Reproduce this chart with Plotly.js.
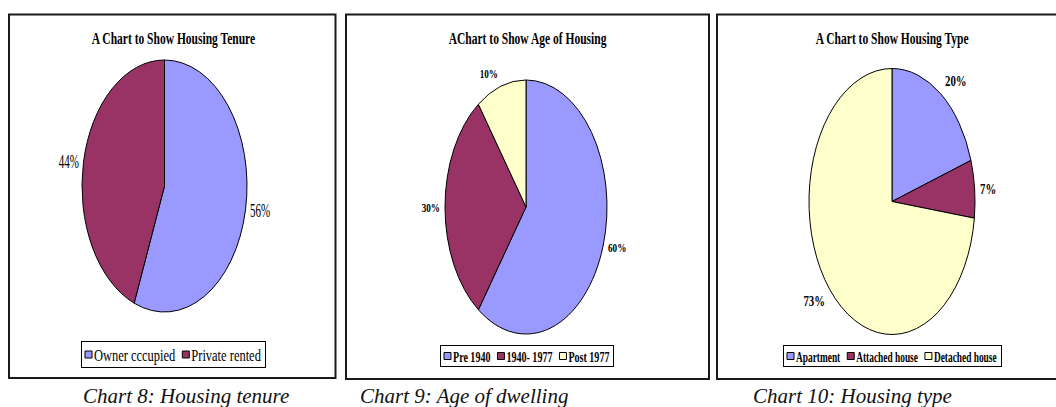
<!DOCTYPE html>
<html><head><meta charset="utf-8">
<script src="https://cdn.plot.ly/plotly-3.0.1.min.js"></script>
<style>
html,body{margin:0;padding:0;background:#fff;}
#chart{width:1056px;height:407px;}
</style></head><body><div id="chart"></div>
<script>
// ---- data ----
const tenureLabels = ['Owner cccupied', 'Private rented'];
const tenureValues = [56, 44];
const ageLabels = ['Pre 1940', '1940- 1977', 'Post 1977'];
const ageValues = [60, 30, 10];
const typeLabels = ['Apartment', 'Attached house', 'Detached house'];
const typeValues = [20, 7, 73];
const sliceColors = ['#9999FF', '#993366', '#FFFFCC'];
const chartTitles = ['A Chart to Show Housing Tenure', 'AChart to Show Age of Housing', 'A Chart to Show Housing Type'];
const captions = ['Chart 8: Housing tenure', 'Chart 9: Age of dwelling', 'Chart 10: Housing type'];

// ---- layout (pixels) ----
const W = 1056, H = 407;
const FONT = 'Liberation Serif, "Times New Roman", serif';
const panels = [
  {labels: tenureLabels, values: tenureValues, title: chartTitles[0], caption: captions[0],
   box: [9, 14.5, 335.5, 378], cx: 164.5, cy: 186, rx: 82.5, ry: 126, midX: 173, capX: 186,
   bold: false, labelSize: 19, labelScale: 0.58, lg: {y: 341, h: 27, size: 16, scale: 0.78}},
  {labels: ageLabels, values: ageValues, title: chartTitles[1], caption: captions[1],
   box: [346, 14.5, 709, 379], cx: 526, cy: 207, rx: 81, ry: 127, midX: 527.5, capX: 464,
   bold: true, labelSize: 13.5, labelScale: 0.68, lg: {y: 345, h: 22, size: 15, scale: 0.67}},
  {labels: typeLabels, values: typeValues, title: chartTitles[2], caption: captions[2],
   box: [717, 14.5, 1075, 379], cx: 892, cy: 201.5, rx: 83, ry: 133, midX: 892, capX: 852,
   bold: true, labelSize: 15, labelScale: 0.72, lg: {y: 345, h: 22, size: 15, scale: 0.625}}
];
const legendIds = ['legend', 'legend2', 'legend3'];

const data = panels.map((p, i) => ({
  type: 'pie', labels: p.labels, values: p.values, sort: false,
  direction: 'clockwise', rotation: 0,
  marker: {colors: sliceColors, line: {color: '#000', width: 1}},
  textinfo: 'none', hoverinfo: 'none',
  domain: {x: [(p.cx - p.rx) / W, (p.cx + p.rx) / W], y: [1 - (p.cy + p.rx) / H, 1 - (p.cy - p.rx) / H]},
  legend: legendIds[i], showlegend: true
}));

const annotations = [];
const annFx = [];
function addAnn(a, scale, origin) { annotations.push(a); annFx.push({scale: scale, origin: origin}); }

panels.forEach(p => {
  addAnn({xref: 'paper', yref: 'paper', x: p.midX / W, y: 1 - 39 / H, showarrow: false,
    xanchor: 'center', yanchor: 'middle', text: p.title,
    font: {family: FONT, size: 16, color: '#000', weight: 700}}, 0.72, 'center');
  const total = p.values.reduce((a, b) => a + b, 0);
  let cum = 0;
  p.values.forEach(v => {
    const th = (cum + v / 2) / total * 2 * Math.PI; cum += v;
    const s = Math.sin(th), c = Math.cos(th);
    const pad = 3;
    const px = p.cx + (p.rx + pad) * s, py = p.cy - (p.ry + pad) * c;
    const xa = s > 0.3 ? 'left' : (s < -0.3 ? 'right' : 'center');
    const ya = c > 0.6 ? 'bottom' : (c < -0.6 ? 'top' : 'middle');
    addAnn({xref: 'paper', yref: 'paper', x: px / W, y: 1 - py / H, showarrow: false,
      xanchor: xa, yanchor: ya, text: Math.round(v / total * 100) + '%',
      font: {family: FONT, size: p.labelSize, color: '#000', weight: p.bold ? 700 : 400}},
      p.labelScale, xa === 'left' ? 'left center' : (xa === 'right' ? 'right center' : 'center'));
  });
  addAnn({xref: 'paper', yref: 'paper', x: p.capX / W, y: 1 - 396 / H, showarrow: false,
    xanchor: 'center', yanchor: 'middle', text: p.caption,
    font: {family: FONT, size: 21, color: '#111', style: 'italic'}}, 1, 'center');
});

const layout = {
  width: W, height: H, margin: {l: 0, r: 0, t: 0, b: 0, autoexpand: false},
  paper_bgcolor: '#fff', plot_bgcolor: '#fff', showlegend: true,
  annotations: annotations,
  shapes: panels.map(p => ({type: 'rect', xref: 'paper', yref: 'paper',
    x0: p.box[0] / W, x1: p.box[2] / W, y0: 1 - p.box[3] / H, y1: 1 - p.box[1] / H,
    line: {color: '#1a1a1a', width: 2}, fillcolor: 'rgba(0,0,0,0)'}))
};
panels.forEach((p, i) => {
  layout[legendIds[i]] = {orientation: 'h', x: (p.midX - 90) / W, y: 1 - p.lg.y / H,
    xanchor: 'left', yanchor: 'top', bgcolor: '#fff', bordercolor: '#000', borderwidth: 1,
    font: {family: FONT, size: p.lg.size, color: '#000', weight: p.bold ? 700 : 400}};
});

function fixLegend(gd, id, p) {
  const g = gd.querySelector('.infolayer > g.' + id) || gd.querySelector('g.' + id);
  if (!g) return;
  const sb = g.querySelector('.scrollbox');
  if (sb) sb.removeAttribute('clip-path');
  const items = g.querySelectorAll('g.traces');
  const iconS = 7;
  let x = 4;
  items.forEach(it => {
    const icon = it.querySelector('.legendpoints path');
    const txt = it.querySelector('text.legendtext') || it.querySelector('text');
    if (!txt) return;
    if (icon) {
      icon.setAttribute('transform', 'translate(' + (x + iconS / 2) + ',0) scale(' + (iconS / 12) + ')');
      icon.style.vectorEffect = 'non-scaling-stroke';
    }
    const tx = x + iconS + 2;
    txt.setAttribute('x', tx);
    txt.querySelectorAll('tspan').forEach(ts => { if (ts.hasAttribute('x')) ts.setAttribute('x', tx); });
    txt.style.transformBox = 'fill-box';
    txt.style.transformOrigin = 'left center';
    txt.style.transform = 'scaleX(' + p.lg.scale + ')';
    const tw = txt.getComputedTextLength() * p.lg.scale;
    it.setAttribute('transform', 'translate(0,' + (p.lg.h / 2) + ')');
    x = tx + tw + 7;
  });
  const boxW = x - 7 + 5;
  const bg = g.querySelector('rect.bg');
  if (bg) {
    bg.setAttribute('x', 0.5); bg.setAttribute('y', 0.5);
    bg.setAttribute('width', boxW - 1); bg.setAttribute('height', p.lg.h - 1);
  }
  g.setAttribute('transform', 'translate(' + Math.round(p.midX - boxW / 2) + ',' + p.lg.y + ')');
}

Plotly.newPlot('chart', data, layout, {staticPlot: true, displayModeBar: false}).then(gd => {
  // stretch each pie vertically into the ellipse of the reference
  const tg = gd.querySelectorAll('.pielayer .trace');
  tg.forEach((g, i) => {
    const cd0 = gd.calcdata[i][0];
    const cy = cd0.cy, k = panels[i].ry / cd0.r;
    g.querySelectorAll('path.surface').forEach(pth => {
      pth.setAttribute('transform', 'translate(0,' + cy + ') scale(1,' + k + ') translate(0,' + (-cy) + ')');
      pth.style.vectorEffect = 'non-scaling-stroke';
    });
  });
  // condensed text
  gd.querySelectorAll('.annotation').forEach(a => {
    const idx = +a.getAttribute('data-index');
    const fx = annFx[idx];
    if (!fx || fx.scale === 1) return;
    const t = a.querySelector('text.annotation-text');
    if (!t) return;
    t.style.transformBox = 'fill-box';
    t.style.transformOrigin = fx.origin;
    t.style.transform = 'scaleX(' + fx.scale + ')';
  });
  legendIds.forEach((id, i) => { try { fixLegend(gd, id, panels[i]); } catch (e) { console.log(e); } });
});
</script>
</body></html>
